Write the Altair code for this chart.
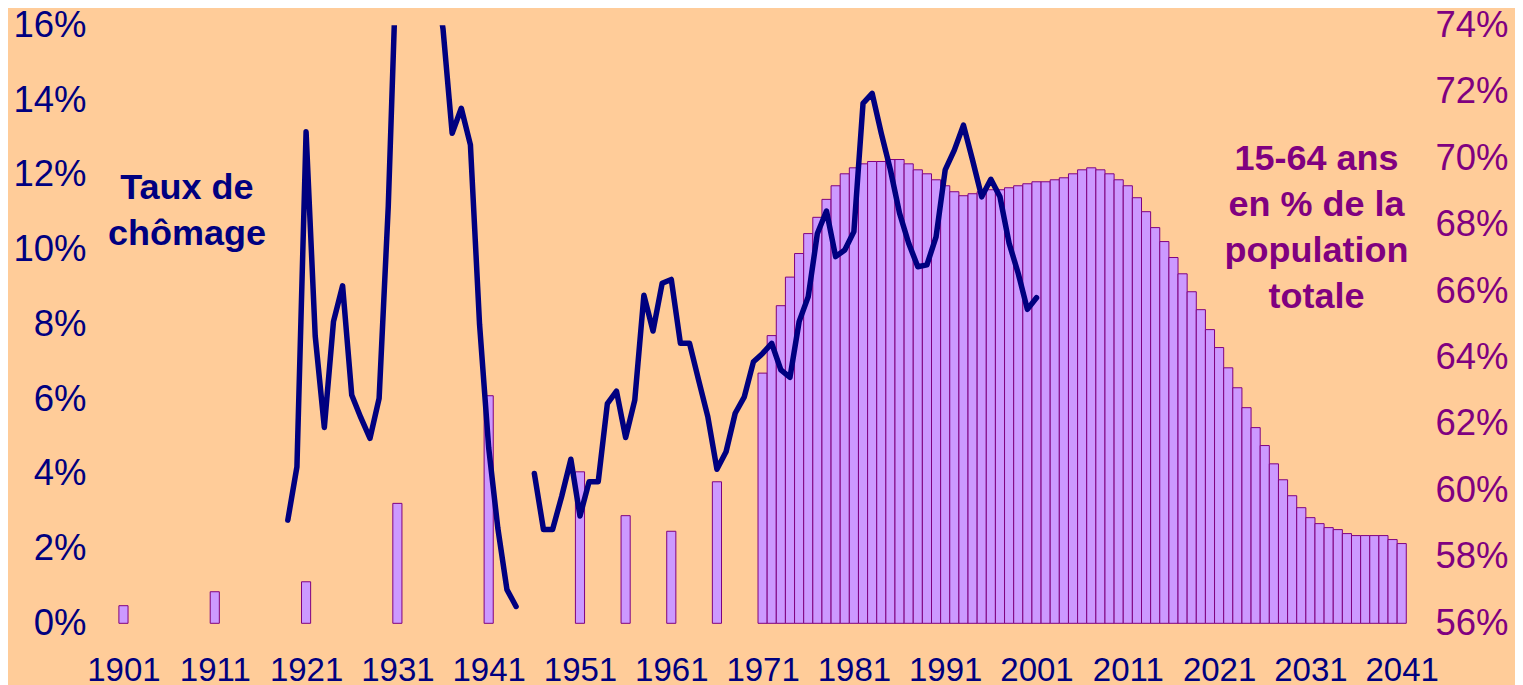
import altair as alt
import pandas as pd

NAVY = "#000080"
PURPLE = "#800080"
BAR_FILL = "#CC99FF"
BG = "#FFCC99"
FONT = "Liberation Sans"

# 15-64 year-olds as % of total population (right axis)
bar_years = [1901, 1911, 1921, 1931, 1941, 1951, 1956, 1961, 1966] + list(range(1971, 2042))
bar_share = [
    56.53, 56.95, 57.25, 59.61, 62.85, 60.56, 59.24, 58.77, 60.26,
    63.53, 64.66, 65.56, 66.42, 67.13, 67.73, 68.22, 68.76, 69.17, 69.53,
    69.71, 69.83, 69.90, 69.90, 69.96, 69.96, 69.83, 69.65, 69.53, 69.35,
    69.17, 68.99, 68.87, 68.93, 68.99, 69.05, 69.05, 69.11, 69.17, 69.23,
    69.29, 69.29, 69.35, 69.41, 69.53, 69.65, 69.71, 69.65, 69.53, 69.35,
    69.17, 68.81, 68.39, 67.91, 67.49, 67.01, 66.52, 65.98, 65.44, 64.84,
    64.30, 63.69, 63.09, 62.49, 61.89, 61.35, 60.80, 60.32, 59.84, 59.48,
    59.18, 59.00, 58.88, 58.82, 58.70, 58.64, 58.64, 58.64, 58.64, 58.52, 58.40,
]

# unemployment rate (left axis), two segments
rate_years_1 = list(range(1919, 1945))
rate_1 = [2.76, 4.19, 13.15, 7.69, 5.24, 8.07, 9.03, 6.11, 5.5, 4.95,
          6.02, 11.14, 18.5, 23.0, 25.0, 22.0, 17.5, 15.9, 13.11, 13.78,
          12.80, 8.0, 4.7, 2.55, 0.9, 0.45]
rate_years_2 = list(range(1946, 2002))
rate_2 = [4.01, 2.51, 2.51, 3.4, 4.39, 2.87, 3.79, 3.79, 5.88, 6.21,
          4.97, 5.97, 8.78, 7.82, 9.10, 9.20, 7.49, 7.49, 6.5, 5.53,
          4.12, 4.59, 5.62, 6.06, 7.00, 7.22, 7.49, 6.78, 6.58, 8.07,
          8.74, 10.43, 11.03, 9.81, 9.99, 10.48, 13.91, 14.18, 13.11, 12.13,
          10.97, 10.17, 9.54, 9.59, 10.34, 12.13, 12.66, 13.33, 12.39, 11.41,
          11.88, 11.41, 10.17, 9.36, 8.40, 8.71]

x_labels = list(range(1901, 2042, 10))
left_ticks = list(range(0, 17, 2))
right_ticks = list(range(56, 75, 2))

note_left_text = ["Taux de", "chômage"]
note_left_pos = [1907.95, 11.35]
note_right_text = ["15-64 ans", "en % de la", "population", "totale"]
note_right_pos = [2031.67, 12.13]

X_DOMAIN = [1898.43, 2043.55]

bars_df = pd.DataFrame({"year": bar_years, "share": bar_share})
bars_df["x0"] = bars_df["year"] - 0.5
bars_df["x1"] = bars_df["year"] + 0.5
bars_df["base"] = 56

rate_df = pd.concat([
    pd.DataFrame({"year": rate_years_1, "rate": rate_1, "seg": "a"}),
    pd.DataFrame({"year": rate_years_2, "rate": rate_2, "seg": "b"}),
])

x_axis = alt.Axis(values=x_labels, format="d", labelFontSize=33, labelColor=NAVY,
                  labelFont=FONT, ticks=False, tickSize=0, domain=False, grid=False,
                  labelPadding=31, labelFlush=False, labelOverlap=False, title=None)
x_scale = alt.Scale(domain=X_DOMAIN, nice=False, zero=False)

bars = alt.Chart(bars_df).mark_bar(
    fill=BAR_FILL, stroke=PURPLE, strokeWidth=1
).encode(
    x=alt.X("x0:Q", scale=x_scale, axis=x_axis),
    x2="x1:Q",
    y=alt.Y("share:Q", scale=alt.Scale(domain=[56, 74], nice=False, zero=False),
            axis=alt.Axis(orient="right", values=right_ticks, labelExpr="datum.value + '%'",
                          labelFontSize=36.5, labelColor=PURPLE, labelFont=FONT,
                          ticks=False, tickSize=0, domain=False, grid=False,
                          labelPadding=10, labelFlush=False, labelOverlap=False, title=None)),
    y2="base:Q",
)

line = alt.Chart(rate_df).mark_line(
    color=NAVY, strokeWidth=5.5, clip=True, strokeJoin="round", strokeCap="round"
).encode(
    x=alt.X("year:Q", scale=x_scale, axis=x_axis),
    y=alt.Y("rate:Q", scale=alt.Scale(domain=[0, 16], nice=False, zero=False),
            axis=alt.Axis(orient="left", values=left_ticks, labelExpr="datum.value + '%'",
                          labelFontSize=36.5, labelColor=NAVY, labelFont=FONT,
                          ticks=False, tickSize=0, domain=False, grid=False,
                          labelPadding=14, labelFlush=False, labelOverlap=False, title=None)),
    detail="seg:N",
)

def note(text_lines, pos, color):
    df = pd.DataFrame({"year": [pos[0]], "pct": [pos[1]], "label": ["\n".join(text_lines)]})
    return alt.Chart(df).mark_text(
        font=FONT, fontSize=36, fontWeight="bold", color=color, align="center",
        baseline="alphabetic", lineBreak="\n", lineHeight=46
    ).encode(
        x=alt.X("year:Q", scale=x_scale, axis=x_axis),
        y=alt.Y("pct:Q", scale=alt.Scale(domain=[0, 16], nice=False, zero=False), axis=None),
        text="label:N",
    )

chart = alt.layer(
    bars, line,
    note(note_left_text, note_left_pos, NAVY),
    note(note_right_text, note_right_pos, PURPLE),
).resolve_scale(y="independent").properties(
    width=1325, height=598,
    autosize=alt.AutoSizeParams(type="none"),
    padding={"left": 92, "top": 17.3, "right": 90, "bottom": 72},
    background=BG,
).configure_view(strokeWidth=0)

chart.save("out.html", embed_options={"renderer": "svg", "actions": False})
